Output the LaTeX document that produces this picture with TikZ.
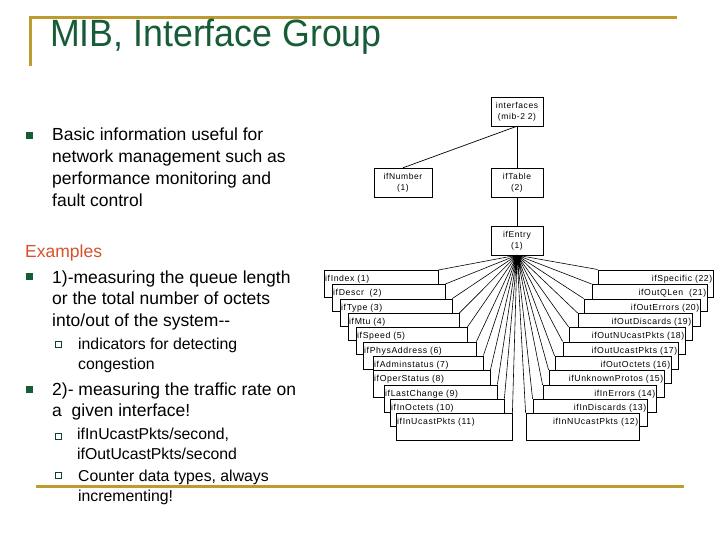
\documentclass[tikz,border=0pt]{standalone}
\usepackage{fontspec}
\setmainfont{Liberation Sans}
\newfontfamily\treefont[LetterSpace=7]{Liberation Sans}
\usetikzlibrary{positioning}
\definecolor{mibGold}{HTML}{BF9A2E}
\definecolor{mibGreen}{HTML}{175C36}
\definecolor{mibRed}{HTML}{D9512C}
\tikzset{
  goldrule/.style={draw=mibGold, line width=3pt},
  treebox/.style={rectangle, draw, fill=white, align=center, inner sep=1pt,
                  minimum width=52pt, minimum height=29pt,
                  font=\treefont\fontsize{8.5}{11}\selectfont},
  treeline/.style={draw, line width=0.7pt},
  fanline/.style={draw, line width=0.6pt},
  colL/.style={rectangle, draw, fill=white, anchor=north west, align=left,
               inner xsep=1pt, inner ysep=0pt, text width=#1,
               text height=11.5pt, text depth=15.5pt,
               font=\treefont\fontsize{8.7}{11}\selectfont},
  colR/.style={colL=#1, anchor=north east, align=right, inner xsep=0.5pt},
  % base anchor of a multi-line node = baseline of its last line
  bodytext/.style={anchor=base west, align=left, inner sep=0pt,
                   font=\fontsize{17.5}{21.8}\selectfont},
  subtext/.style={anchor=base west, align=left, inner sep=0pt,
                  font=\fontsize{15.8}{19.6}\selectfont},
  bulletA/.style={rectangle, fill=mibGreen, minimum size=6.5pt, inner sep=0pt},
  bulletB/.style={rectangle, draw=mibGreen!70!black, fill=white, line width=0.8pt,
                  minimum size=6pt, inner sep=0pt},
}
\begin{document}
\begin{tikzpicture}[x=1pt, y=-1pt]
  \fill[white] (0,0) rectangle (720,540);
  \useasboundingbox (0,0) rectangle (720,540);

  % frame and title
  \draw[goldrule] (30,18) -- (677,18);
  \draw[goldrule] (30,16.5) -- (30,66);
  \draw[goldrule] (36,486) -- (684,486);
  \node[anchor=base west, inner sep=0pt, xscale=0.94, text=mibGreen,
        font=\fontsize{38}{40}\selectfont] (title) at (50,46.5) {MIB, Interface Group};

  % left column text
  \node[bulletA] (b1) at (29.5,135.5) {};
  \node[bodytext] (basic) at (52,206.4) {Basic information useful for\\network management such as\\performance monitoring and\\fault control};
  \node[anchor=base west, inner sep=0pt, text=mibRed,
        font=\fontsize{17.5}{21.8}\selectfont] (examples) at (25,257.7) {Examples};
  \node[bulletA] (b2) at (29.5,276.5) {};
  \node[bodytext] (ex1) at (52,326.6) {1)-measuring the queue length\\or the total number of octets\\into/out of the system{-}{-}};
  \node[bulletB] (s1) at (58,344) {};
  \node[subtext] (ex1a) at (78,369.4) {indicators for detecting\\congestion};
  \node[bulletA] (b3) at (29.5,389.5) {};
  \node[bodytext] (ex2) at (52,416.8) {2)- measuring the traffic rate on\\a \ given interface!};
  \node[bulletB] (s2) at (58,436) {};
  \node[subtext] (ex2a) at (77,459) {ifInUcastPkts/second,\\ifOutUcastPkts/second};
  \node[bulletB] (s3) at (58,475.5) {};
  \node[subtext] (ex2b) at (78,501.5) {Counter data types, always\\incrementing!};

  % MIB tree
  \node[treebox] (interfaces) at (517,111.5) {interfaces\\(mib-2 2)};
  \node[treebox, minimum width=58pt] (ifnumber) at (403,182.5) {ifNumber\\(1)};
  \node[treebox] (iftable) at (517,182.5) {ifTable\\(2)};
  \node[treebox] (ifentry) at (517,240.5) {ifEntry\\(1)};
  \draw[treeline] (interfaces.south) -- (ifnumber.north);
  \draw[treeline] (interfaces) -- (iftable); \draw[treeline] (iftable) -- (ifentry);

  % ifEntry columns, left half
  \node[colL=112pt] (c1) at (324,270) {ifIndex (1)};
  \node[colL=111pt] (c2) at (332,284) {ifDescr\ \ (2)};
  \node[colL=110pt] (c3) at (340,298.5) {ifType (3)};
  \node[colL=109pt] (c4) at (348,313) {ifMtu (4)};
  \node[colL=109pt] (c5) at (356,327) {ifSpeed (5)};
  \node[colL=111pt] (c6) at (363,341.5) {ifPhysAddress (6)};
  \node[colL=108pt] (c7) at (373,355.5) {ifAdminstatus (7)};
  \node[colL=115pt] (c8) at (373,370) {ifOperStatus (8)};
  \node[colL=111pt] (c9) at (384,384.5) {ifLastChange (9)};
  \node[colL=112pt] (c10) at (390,398.5) {ifInOctets (10)};
  \node[colL=114pt] (c11) at (396,413) {ifInUcastPkts (11)};

  % ifEntry columns, right half
  \node[colR=114pt] (c22) at (713,269.5) {ifSpecific (22)};
  \node[colR=114pt] (c21) at (707,284) {ifOutQLen\ \ (21)};
  \node[colR=115pt] (c20) at (700,298.5) {ifOutErrors (20)};
  \node[colR=113pt] (c19) at (692,313) {ifOutDiscards (19)};
  \node[colR=115pt] (c18) at (685,327) {ifOutNUcastPkts (18)};
  \node[colR=114pt] (c17) at (678,341.5) {ifOutUcastPkts (17)};
  \node[colR=115pt] (c16) at (671,356) {ifOutOctets (16)};
  \node[colR=114pt] (c15) at (664,370) {ifUnknownProtos (15)};
  \node[colR=112pt] (c14) at (656,385) {ifInErrors (14)};
  \node[colR=113pt] (c13) at (647,399) {ifInDiscards (13)};
  \node[colR=112pt] (c12) at (639,413) {ifInNUcastPkts (12)};

  \draw[fanline] (ifentry.south) -- (c1.north east) (ifentry.south) -- (c2.north east)
    (ifentry.south) -- (c3.north east) (ifentry.south) -- (c4.north east)
    (ifentry.south) -- (c5.north east) (ifentry.south) -- (c6.north east)
    (ifentry.south) -- (c7.north east) (ifentry.south) -- (c8.north east)
    (ifentry.south) -- (c9.north east) (ifentry.south) -- (c10.north east)
    (ifentry.south) -- (c11.north east);
  \draw[fanline] (ifentry.south) -- (c22.north west) (ifentry.south) -- (c21.north west)
    (ifentry.south) -- (c20.north west) (ifentry.south) -- (c19.north west)
    (ifentry.south) -- (c18.north west) (ifentry.south) -- (c17.north west)
    (ifentry.south) -- (c16.north west) (ifentry.south) -- (c15.north west)
    (ifentry.south) -- (c14.north west) (ifentry.south) -- (c13.north west)
    (ifentry.south) -- (c12.north west);
\end{tikzpicture}
\end{document}
